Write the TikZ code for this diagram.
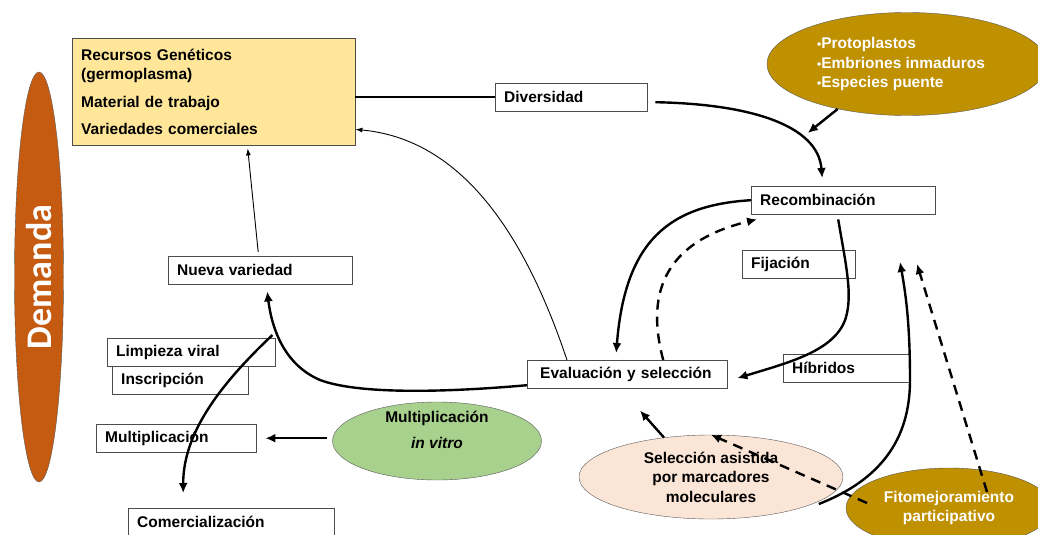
\documentclass[tikz,border=0pt]{standalone}
\usepackage{fontspec}
\setmainfont{Liberation Sans}
\newfontfamily\demandafont{Carlito}
\usepackage{tikz}
\usetikzlibrary{positioning}
\usetikzlibrary{arrows}
\usetikzlibrary{arrows.meta}
\usetikzlibrary{shapes,calc}
\definecolor{demorange}{RGB}{197,90,17}
\definecolor{gpyellow}{RGB}{255,230,153}
\definecolor{goldbrown}{RGB}{191,144,0}
\definecolor{vitrogreen}{RGB}{169,209,142}
\definecolor{peach}{RGB}{251,229,214}
\newcommand{\smallbullet}{{\fontsize{12}{12}\selectfont\textbullet}}
\tikzset{box/.style={draw=black!70,fill=white,anchor=north west,minimum height=28pt,inner xsep=9pt,inner ysep=0pt,align=left},
  blob/.style={ellipse,draw=black!65,inner sep=0pt},
  flow/.style={line width=2.4pt,-{Latex[length=10pt,width=9pt]}},
  thin flow/.style={line width=0.9pt,-{Latex[length=7pt,width=5pt]}},
  dashed flow/.style={flow,line width=2.4pt,dash pattern=on 10pt off 7pt},}

\begin{document}
\begin{tikzpicture}[x=1pt,y=-1pt,font=\bfseries\fontsize{15.5}{19.5}\selectfont]
  \useasboundingbox (0,0) rectangle (1038,535);
  \clip (0,0) rectangle (1038,535);

  \node[blob,fill=demorange,rotate=90,minimum width=410pt,minimum height=49pt,text=white,
        font=\demandafont\bfseries\fontsize{36}{36}\selectfont] (dem) at (39,277) {Demanda};
  \node[blob,fill=goldbrown,minimum width=280pt,minimum height=103pt,
        label={[name=prot text,text=white,align=left,xshift=-6pt]center:{\smallbullet Protoplastos\\\smallbullet Embriones inmaduros\\\smallbullet Especies puente}}] (prot) at (907,64) {};
  \node[blob,fill=vitrogreen,minimum width=209pt,minimum height=78pt,
        label={[name=mivt text,align=center,yshift=11pt]center:{Multiplicación\\[6pt]\textit{in vitro}}}] (mivt) at (437,441) {};
  \node[blob,fill=peach,minimum width=264pt,minimum height=84pt,align=center] (sam) at (711,477)
        {Selección asistida\\por marcadores\\moleculares};
  \node[blob,fill=goldbrown,minimum width=206pt,minimum height=80pt,text=white,align=center] (fito) at (949,508)
        {Fitomejoramiento\\participativo};

  \node[box,fill=gpyellow,text width=265pt,minimum height=107pt] (rg) at (72,38)
        {Recursos Genéticos\\(germoplasma)\\[8pt]Material de trabajo\\[8pt]Variedades comerciales};
  \node[box,text width=134pt] (div) at (495,83) {Diversidad};
  \node[box,text width=166pt] (rec) at (751,186) {Recombinación};
  \node[box,text width=95pt] (fij) at (742,250) {Fijación};
  \node[box,text width=109pt] (hib) at (783,354) {Híbridos};
  \node[box,inner xsep=13pt,text width=174pt] (eval) at (527,360) {Evaluación y selección};
  \node[box,text width=166pt] (nv) at (168,256) {Nueva variedad};
  \node[box,text width=150pt] (lv) at (107,338) {Limpieza viral};
  \node[box,text width=118pt] (ins) at ([xshift=5pt]lv.south west) {Inscripción};
  \node[box,text width=142pt] (mul) at (96,424) {Multiplicación};
  \node[box,text width=188pt] (com) at (128,508) {Comercialización};

  \coordinate (fp) at (900,262);
  \coordinate (fpd) at (917,264);

  \draw[line width=2.4pt] (rg.east |- div.west) -- (div.west);
  \draw[flow] ([xshift=8pt,yshift=-5pt]div.east) .. controls (750,104) and (818,125) .. ([xshift=-21pt,yshift=8pt]rec.north);
  \draw[flow] (prot.213) -- ++(-30,24);
  \draw[flow] (rec.west) .. controls (670,205) and (625,240) .. ([xshift=-11pt,yshift=7pt]eval.north);
  \draw[dashed flow] ([xshift=36pt]eval.north) .. controls (650,310) and (650,245) .. ([xshift=6pt,yshift=-5pt]rec.south west);
  \draw[flow] ([xshift=-5pt,yshift=-5pt]rec.south) .. controls (845,260) and (852,290) .. (847,313)
        .. controls (840,350) and (790,362) .. ([xshift=10pt,yshift=-4pt]eval.east);
  \draw[flow] ([xshift=-27pt,yshift=4pt]fito.west) .. controls (880,480) and (910,440) .. (910,380)
        .. controls (910,320) and (905,290) .. (fp);
  \draw[dashed flow] ([xshift=38pt,yshift=16pt]fito.center) -- (fpd);
  \draw[dashed flow] ([xshift=-82pt,yshift=5pt]fito.center) -- (sam.north);
  \draw[flow] (sam.140) -- ++(-24,-27);
  \draw[thin flow] ([xshift=40pt]eval.north west) .. controls (530,250) and (470,140) .. ([yshift=16pt]rg.south east);
  \draw[flow] ([yshift=-11pt]eval.west) .. controls (450,392) and (360,395) .. (320,380)
        .. controls (285,365) and (272,330) .. ([xshift=7pt,yshift=-7pt]nv.south);
  \draw[thin flow] ([xshift=-2pt,yshift=4pt]nv.north) -- ([xshift=34pt,yshift=-3pt]rg.south);
  \draw[flow] ([xshift=-3pt,yshift=3pt]lv.north east) .. controls (225,380) and (183,430) .. ([xshift=-48pt,yshift=15pt]com.north);
  \draw[flow,shorten <=5pt] (mivt.west |- mul.east) -- ([xshift=9pt]mul.east);
\end{tikzpicture}
\end{document}
